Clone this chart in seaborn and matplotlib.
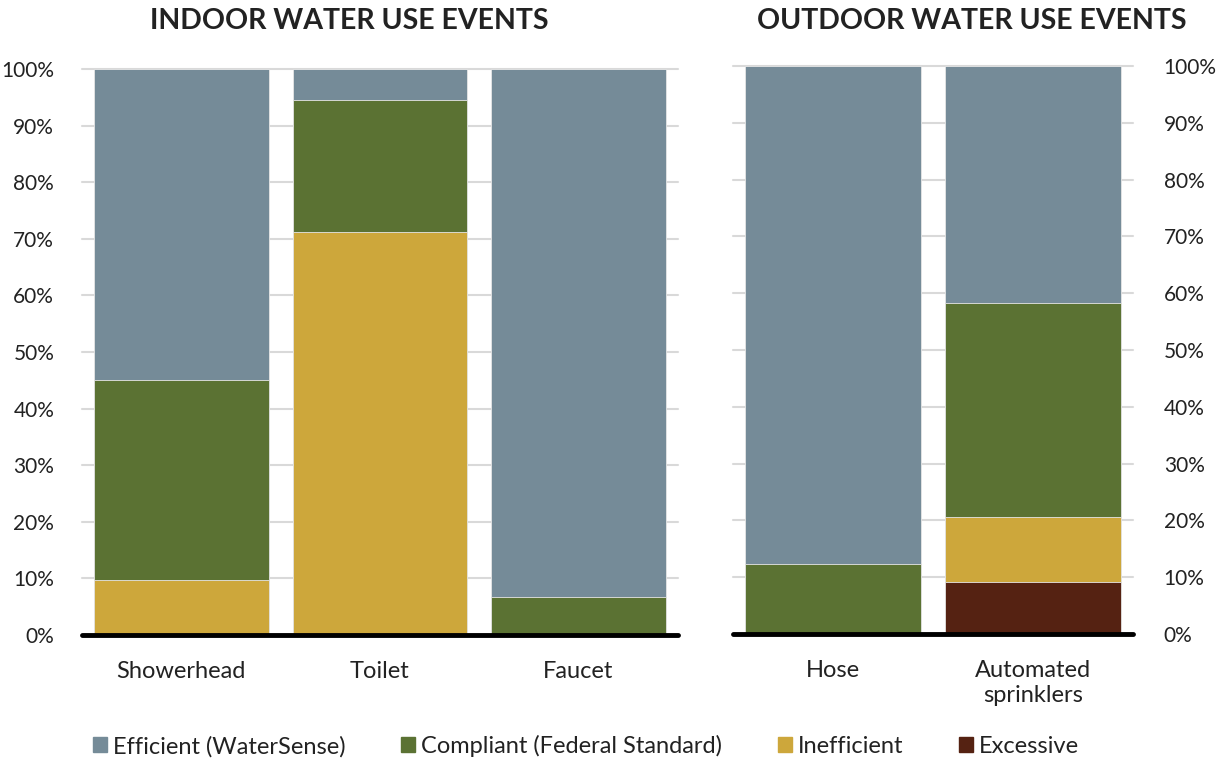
import matplotlib
matplotlib.use("Agg")
import matplotlib.pyplot as plt
import matplotlib.patches as mpatches
import numpy as np
import pandas as pd
import seaborn as sns

# Shares of water use events by efficiency class (percent)
indoor_fixtures = ["Showerhead", "Toilet", "Faucet"]
outdoor_fixtures = ["Hose", "Automated\nsprinklers"]
categories = ["Excessive", "Inefficient", "Compliant (Federal Standard)", "Efficient (WaterSense)"]

indoor_excessive = [0.0, 0.0, 0.0]
indoor_inefficient = [9.7, 71.2, 0.0]
indoor_compliant = [35.3, 23.3, 6.7]
indoor_efficient = [55.0, 5.5, 93.3]

outdoor_excessive = [0.0, 9.2]
outdoor_inefficient = [0.0, 11.4]
outdoor_compliant = [12.3, 37.7]
outdoor_efficient = [87.7, 41.7]

colors = {
    "Efficient (WaterSense)": "#758b98",
    "Compliant (Federal Standard)": "#5b7233",
    "Inefficient": "#cda73b",
    "Excessive": "#552212",
}

sns.set_theme(style="white")
plt.rcParams["font.family"] = ["Lato", "DejaVu Sans"]
plt.rcParams["text.color"] = "#222222"

fig = plt.figure(figsize=(12.26, 7.63), dpi=100)
ax_in = fig.add_axes([0.0669, 0.1678, 0.486, 0.7418])
ax_out = fig.add_axes([0.598, 0.1691, 0.3263, 0.7444])


def stacked(ax, fixtures, layers):
    df = pd.DataFrame({"fixture": fixtures})
    cum = np.zeros(len(fixtures))
    tops = []
    for name, vals in layers:
        cum = cum + np.array(vals) / 100.0
        tops.append((name, cum.copy()))
    # draw tallest cumulative stack first so lower segments sit on top
    for name, top in reversed(tops):
        df["top"] = top
        sns.barplot(data=df, x="fixture", y="top", color=colors[name],
                    width=0.88, saturation=1, edgecolor="#e6e6e6",
                    linewidth=0.6, ax=ax, zorder=2)
    ax.set_ylim(0, 1)
    ax.set_xlim(-0.5, len(fixtures) - 0.5)
    ax.set_yticks(np.arange(0, 1.01, 0.1))
    ax.set_yticklabels([f"{int(round(v * 100))}%" for v in np.arange(0, 1.01, 0.1)])
    for v in np.arange(0.1, 1.01, 0.1):
        ax.axhline(v, color="#d9d9d9", lw=1.5, zorder=0, clip_on=False)
    ax.axhline(0, color="black", lw=3.5, zorder=3, clip_on=False)
    for s in ax.spines.values():
        s.set_visible(False)
    ax.set_xlabel("")
    ax.set_ylabel("")
    ax.tick_params(axis="y", length=0, labelsize=15, colors="#222222")
    ax.tick_params(axis="x", length=0, labelsize=17, colors="#222222", pad=19)
    for t in ax.get_xticklabels():
        t.set_linespacing(1.2)


stacked(ax_in, indoor_fixtures, [
    ("Excessive", indoor_excessive),
    ("Inefficient", indoor_inefficient),
    ("Compliant (Federal Standard)", indoor_compliant),
    ("Efficient (WaterSense)", indoor_efficient),
])
stacked(ax_out, outdoor_fixtures, [
    ("Excessive", outdoor_excessive),
    ("Inefficient", outdoor_inefficient),
    ("Compliant (Federal Standard)", outdoor_compliant),
    ("Efficient (WaterSense)", outdoor_efficient),
])

ax_in.tick_params(axis="y", pad=20)
ax_out.yaxis.tick_right()
ax_out.tick_params(axis="y", pad=22, labelleft=False, labelright=True)

fig.text(0.285, 0.973, "INDOOR WATER USE EVENTS", ha="center", va="center",
         fontsize=20.5, fontweight="bold", color="#222222")
fig.text(0.793, 0.973, "OUTDOOR WATER USE EVENTS", ha="center", va="center",
         fontsize=20.5, fontweight="bold", color="#222222")

legend_order = ["Efficient (WaterSense)", "Compliant (Federal Standard)", "Inefficient", "Excessive"]
handles = [mpatches.Patch(color=colors[n], label=n) for n in legend_order]
fig.legend(handles=handles, loc="center", bbox_to_anchor=(0.478, 0.022), ncol=4,
           frameon=False, fontsize=17, handlelength=0.6, handleheight=0.6,
           handletextpad=0.25, columnspacing=2.35)

fig.savefig("out.png", dpi=100)
